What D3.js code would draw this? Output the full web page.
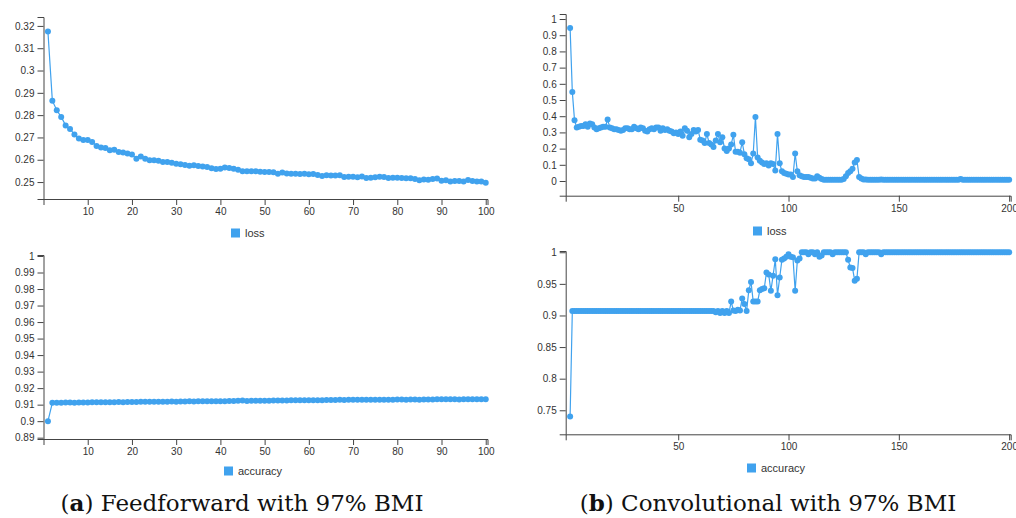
<!DOCTYPE html>
<html>
<head>
<meta charset="utf-8">
<script src="https://cdn.jsdelivr.net/npm/d3@7"></script>
<style>
  body { margin: 0; background: #fff; }
  .tick text { font-family: "Liberation Sans", Arial, sans-serif; font-size: 10px; fill: #333; }
  .domain, .tick line { stroke: #444; }
  .legend text { font-family: "Liberation Sans", Arial, sans-serif; font-size: 11px; fill: #333; }
  .caption { font-family: "DejaVu Serif", serif; font-size: 23px; fill: #111; }
</style>
</head>
<body>
<svg id="chart" width="1016" height="518"></svg>
<script>
// (a) feedforward, 100 epochs
var lossA = [
  0.3175,0.2865,0.2822,0.2792,0.2754,0.2738,0.2713,0.2695,0.2688,0.2688,
  0.2680,0.2662,0.2655,0.2653,0.2643,0.2645,0.2635,0.2632,0.2628,0.2623,
  0.2605,0.2614,0.2605,0.2598,0.2598,0.2596,0.2590,0.2590,0.2587,0.2582,
  0.2580,0.2576,0.2573,0.2575,0.2572,0.2570,0.2567,0.2562,0.2558,0.2560,
  0.2565,0.2563,0.2560,0.2555,0.2548,0.2548,0.2548,0.2548,0.2546,0.2545,
  0.2545,0.2544,0.2537,0.2543,0.2538,0.2537,0.2537,0.2536,0.2537,0.2535,
  0.2536,0.2532,0.2527,0.2531,0.2529,0.2529,0.2530,0.2523,0.2524,0.2524,
  0.2522,0.2525,0.2518,0.2519,0.2521,0.2524,0.2523,0.2518,0.2519,0.2519,
  0.2518,0.2517,0.2517,0.2514,0.2508,0.2511,0.2510,0.2514,0.2516,0.2506,
  0.2508,0.2503,0.2505,0.2505,0.2503,0.2509,0.2505,0.2502,0.2502,0.2497
];
var accA = [
  0.9000,0.9111,0.9112,0.9112,0.9113,0.9113,0.9112,0.9113,0.9113,0.9113,
  0.9114,0.9114,0.9114,0.9115,0.9115,0.9115,0.9116,0.9115,0.9116,0.9116,
  0.9116,0.9117,0.9117,0.9117,0.9117,0.9118,0.9118,0.9118,0.9119,0.9118,
  0.9119,0.9119,0.9120,0.9119,0.9120,0.9120,0.9120,0.9121,0.9121,0.9121,
  0.9121,0.9122,0.9122,0.9124,0.9125,0.9122,0.9123,0.9124,0.9124,0.9124,
  0.9124,0.9125,0.9125,0.9125,0.9125,0.9126,0.9126,0.9126,0.9126,0.9127,
  0.9127,0.9127,0.9127,0.9128,0.9128,0.9128,0.9129,0.9128,0.9129,0.9129,
  0.9129,0.9129,0.9130,0.9129,0.9130,0.9130,0.9130,0.9130,0.9130,0.9131,
  0.9131,0.9130,0.9131,0.9131,0.9129,0.9131,0.9131,0.9131,0.9132,0.9132,
  0.9133,0.9132,0.9132,0.9131,0.9132,0.9132,0.9132,0.9132,0.9133,0.9133
];

// (b) convolutional, 200 epochs
var lossB = [
  0.945,0.550,0.375,0.330,0.335,0.340,0.340,0.350,0.335,0.355,
  0.350,0.330,0.320,0.325,0.330,0.335,0.335,0.380,0.330,0.325,
  0.320,0.320,0.315,0.310,0.315,0.325,0.325,0.320,0.320,0.335,
  0.325,0.320,0.330,0.325,0.310,0.305,0.320,0.325,0.320,0.330,
  0.330,0.310,0.325,0.315,0.320,0.310,0.305,0.295,0.300,0.290,
  0.305,0.280,0.325,0.310,0.270,0.290,0.315,0.305,0.315,0.255,
  0.250,0.235,0.290,0.235,0.225,0.210,0.250,0.290,0.240,0.270,
  0.200,0.185,0.200,0.225,0.285,0.180,0.180,0.175,0.240,0.165,
  0.140,0.135,0.110,0.170,0.395,0.145,0.125,0.115,0.105,0.110,
  0.095,0.110,0.105,0.065,0.290,0.110,0.060,0.050,0.045,0.040,
  0.040,0.025,0.170,0.060,0.035,0.030,0.025,0.025,0.025,0.020,
  0.015,0.015,0.030,0.020,0.012,0.008,0.008,0.007,0.007,0.007,
  0.007,0.007,0.007,0.008,0.012,0.030,0.050,0.060,0.075,0.115,
  0.130,0.025,0.015,0.010,0.009,0.008,0.008,0.008,0.007,0.008,
  0.008,0.009,0.008,0.007,0.007,0.007,0.007,0.007,0.007,0.007,
  0.007,0.007,0.007,0.007,0.007,0.007,0.007,0.007,0.007,0.007,
  0.007,0.007,0.007,0.007,0.007,0.007,0.007,0.007,0.007,0.007,
  0.007,0.007,0.007,0.007,0.007,0.007,0.007,0.012,0.007,0.007,
  0.007,0.007,0.007,0.007,0.007,0.007,0.007,0.007,0.007,0.007,
  0.007,0.007,0.007,0.007,0.007,0.007,0.007,0.007,0.007,0.007
];
var accB = [
  0.740,0.907,0.907,0.907,0.907,0.907,0.907,0.907,0.907,0.907,
  0.907,0.907,0.907,0.907,0.907,0.907,0.907,0.907,0.907,0.907,
  0.907,0.907,0.907,0.907,0.907,0.907,0.907,0.907,0.907,0.907,
  0.907,0.907,0.907,0.907,0.907,0.907,0.907,0.907,0.907,0.907,
  0.907,0.907,0.907,0.907,0.907,0.907,0.907,0.907,0.907,0.907,
  0.907,0.907,0.907,0.907,0.907,0.907,0.907,0.907,0.907,0.907,
  0.907,0.907,0.907,0.907,0.907,0.907,0.905,0.907,0.904,0.907,
  0.904,0.907,0.904,0.922,0.908,0.907,0.909,0.908,0.927,0.918,
  0.907,0.940,0.953,0.922,0.922,0.922,0.940,0.942,0.943,0.968,
  0.965,0.939,0.963,0.989,0.932,0.960,0.988,0.990,0.993,0.997,
  0.993,0.992,0.939,0.987,0.990,1.000,1.000,1.000,0.997,1.000,
  1.000,0.997,1.000,0.993,0.995,1.000,1.000,1.000,1.000,0.997,
  1.000,1.000,1.000,1.000,1.000,1.000,0.988,0.976,0.975,0.955,
  0.958,1.000,1.000,1.000,0.997,1.000,1.000,1.000,1.000,1.000,
  1.000,0.997,1.000,1.000,1.000,1.000,1.000,1.000,1.000,1.000,
  1.000,1.000,1.000,1.000,1.000,1.000,1.000,1.000,1.000,1.000,
  1.000,1.000,1.000,1.000,1.000,1.000,1.000,1.000,1.000,1.000,
  1.000,1.000,1.000,1.000,1.000,1.000,1.000,1.000,1.000,1.000,
  1.000,1.000,1.000,1.000,1.000,1.000,1.000,1.000,1.000,1.000,
  1.000,1.000,1.000,1.000,1.000,1.000,1.000,1.000,1.000,1.000
];

var ticksXA = [10,20,30,40,50,60,70,80,90,100];
var ticksXB = [50,100,150,200];
var ticksLossA = [0.25,0.26,0.27,0.28,0.29,0.3,0.31,0.32];
var ticksAccA = [0.89,0.9,0.91,0.92,0.93,0.94,0.95,0.96,0.97,0.98,0.99,1];
var ticksLossB = [0,0.1,0.2,0.3,0.4,0.5,0.6,0.7,0.8,0.9,1];
var ticksAccB = [0.75,0.8,0.85,0.9,0.95,1];
var captions = [["a", "Feedforward with 97% BMI"], ["b", "Convolutional with 97% BMI"]];

var blue = "#40a2ee";
var svg = d3.select("#chart");

var panels = [
  {values: lossA, label: "loss", xDom: [0, 100.4], xRange: [43.5, 487.5], xTicks: ticksXA,
   yDom: [0.2424, 0.324], yRange: [199, 17], yTicks: ticksLossA, legend: [231, 233]},
  {values: accA, label: "accuracy", xDom: [0, 100.4], xRange: [43.5, 487.5], xTicks: ticksXA,
   yDom: [0.8892, 1.0006], yRange: [439, 255], yTicks: ticksAccA, legend: [224, 471]},
  {values: lossB, label: "loss", xDom: [-1, 200.7], xRange: [565.7, 1010.7], xTicks: ticksXB,
   yDom: [-0.0907, 1.031], yRange: [195.7, 14], yTicks: ticksLossB, legend: [753, 231]},
  {values: accB, label: "accuracy", xDom: [-1, 200.7], xRange: [565.7, 1010.7], xTicks: ticksXB,
   yDom: [0.712, 1.002], yRange: [434.3, 251], yTicks: ticksAccB, legend: [747, 468]}
];

panels.forEach(drawPanel);

function drawPanel(p) {
  var x = d3.scaleLinear().domain(p.xDom).range(p.xRange);
  var y = d3.scaleLinear().domain(p.yDom).range(p.yRange);
  var g = svg.append("g");

  g.append("g")
    .attr("transform", "translate(0," + p.yRange[0] + ")")
    .call(d3.axisBottom(x).tickValues(p.xTicks).tickSizeOuter(6));

  g.append("g")
    .attr("transform", "translate(" + p.xRange[0] + ",0)")
    .call(d3.axisLeft(y).tickValues(p.yTicks).tickFormat(function(d) { return "" + (+d.toFixed(2)); }));

  var pts = p.values.map(function(v, i) { return {e: i + 1, v: v}; });

  var line = d3.line()
    .x(function(d) { return x(d.e); })
    .y(function(d) { return y(d.v); });

  g.append("path")
    .datum(pts)
    .attr("d", line)
    .attr("fill", "none")
    .attr("stroke", blue)
    .attr("stroke-width", 1.2);

  g.selectAll(".dot")
    .data(pts)
    .enter().append("circle")
    .attr("class", "dot")
    .attr("cx", function(d) { return x(d.e); })
    .attr("cy", function(d) { return y(d.v); })
    .attr("r", 3)
    .attr("fill", blue);

  // legend
  var lg = g.append("g").attr("class", "legend")
    .attr("transform", "translate(" + p.legend[0] + "," + p.legend[1] + ")");
  lg.append("rect").attr("x", 0).attr("y", -4.5).attr("width", 9).attr("height", 9).attr("fill", blue);
  lg.append("text").attr("x", 14).attr("y", 0).attr("dy", "0.35em").text(p.label);
}

// captions
var capX = [242, 768];
captions.forEach(function(c, i) {
  var t = svg.append("text")
    .attr("class", "caption")
    .attr("x", capX[i])
    .attr("y", 511)
    .attr("text-anchor", "middle");
  t.append("tspan").text("(");
  t.append("tspan").attr("font-weight", "bold").text(c[0]);
  t.append("tspan").text(") " + c[1]);
});
</script>
</body>
</html>
